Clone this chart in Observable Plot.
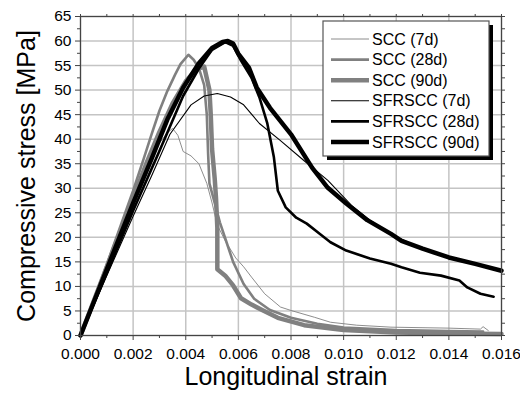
<!DOCTYPE html>
<html><head><meta charset="utf-8">
<script src="https://cdn.jsdelivr.net/npm/d3@7"></script>
<script src="https://cdn.jsdelivr.net/npm/@observablehq/plot@0.6"></script>
<style>
body{margin:0;background:#fff}
svg{font-family:"Liberation Sans",Arial,sans-serif}
</style>
</head><body><div id="chart"></div>
<script>
// series names (legend order)
const seriesNames = ["SCC (7d)", "SCC (28d)", "SCC (90d)", "SFRSCC (7d)", "SFRSCC (28d)", "SFRSCC (90d)"];

// [longitudinal strain, compressive stress MPa]
const scc7 = [[0,0],[0.001,13.5],[0.002,27],[0.0029,38.5],[0.0033,41.3],[0.0035,42.2],[0.0037,40.8],[0.0039,37.5],[0.0042,36.6],[0.0045,35],[0.0048,31],[0.005,27],[0.0052,22.5],[0.0055,19.3],[0.0059,15.8],[0.0062,14],[0.0065,11.9],[0.007,8.5],[0.0076,5.8],[0.008,5.1],[0.0089,3.7],[0.0095,2.7],[0.0105,2.1],[0.0118,1.7],[0.014,1.5],[0.0152,1.3],[0.0153,1.8],[0.0155,1.0]];
const scc28 = [[0,0],[0.001,14.5],[0.002,29.5],[0.0024,36],[0.0027,41],[0.003,45.8],[0.0033,49.8],[0.0036,53.2],[0.0038,55.3],[0.0041,57.2],[0.0043,56.2],[0.0045,54.5],[0.0047,51],[0.0048,45],[0.00485,37],[0.0049,31],[0.0051,27],[0.0053,23],[0.00555,19],[0.0058,15],[0.0062,10.5],[0.0066,7.5],[0.0072,5.2],[0.008,3.6],[0.009,2.4],[0.01,1.6],[0.012,1.1],[0.014,0.9],[0.0153,0.8]];
const scc90 = [[0,0],[0.001,14],[0.002,28],[0.0025,35],[0.003,41.5],[0.0035,47.3],[0.004,51.8],[0.0044,54.2],[0.0047,54.8],[0.0049,50],[0.00495,45],[0.005,38],[0.0051,32],[0.00515,28],[0.0052,22],[0.0052,13.5],[0.0055,12.2],[0.0058,10.2],[0.0061,7.6],[0.0065,6.3],[0.0069,5.2],[0.0075,3.6],[0.0085,2.1],[0.01,1.1],[0.012,0.6],[0.014,0.4],[0.016,0.3]];
const sfr7 = [[0,0],[0.001,12.2],[0.002,24.3],[0.0027,32.5],[0.0034,41],[0.0042,47],[0.0047,48.8],[0.0052,49.3],[0.0057,48.6],[0.0062,47],[0.0068,43.2],[0.0076,39.7],[0.0085,35.6],[0.0094,31.6],[0.0103,26.5],[0.011,23.5],[0.012,20.1],[0.013,17.7],[0.014,15.9],[0.015,14.5],[0.016,13.1]];
const sfr28 = [[0,0],[0.001,12.7],[0.002,25.4],[0.003,37.6],[0.0039,48.8],[0.0045,54.4],[0.005,58.2],[0.0055,59.8],[0.0058,59],[0.0061,56],[0.0065,52.5],[0.0068,48.5],[0.0071,43.2],[0.00735,36.3],[0.0075,29.5],[0.0078,26.1],[0.0082,24],[0.0086,22.8],[0.0091,20.7],[0.0095,19],[0.0101,17.3],[0.011,15.7],[0.0118,14.6],[0.0122,13.9],[0.0129,12.8],[0.0137,12.2],[0.0144,11.2],[0.0147,9.8],[0.0152,8.5],[0.0157,7.9]];
const sfr90 = [[0,0],[0.001,13.5],[0.002,27],[0.0027,36],[0.0033,44],[0.0039,50.5],[0.0045,55.5],[0.005,58.6],[0.0054,59.8],[0.0056,60],[0.0058,59.5],[0.006,57.4],[0.0064,54.6],[0.0067,50.5],[0.0072,46.4],[0.008,41],[0.0088,34.2],[0.0094,30.1],[0.0101,26.9],[0.0109,23.5],[0.0118,20.7],[0.0122,19.3],[0.013,17.7],[0.014,15.9],[0.015,14.6],[0.016,13.2]];
const seriesData = [scc7, scc28, scc90, sfr7, sfr28, sfr90];

const xTicks = [0, 0.002, 0.004, 0.006, 0.008, 0.010, 0.012, 0.014, 0.016];
const xMinor = [0.001, 0.003, 0.005, 0.007, 0.009, 0.011, 0.013, 0.015];
const yTicks = [0, 5, 10, 15, 20, 25, 30, 35, 40, 45, 50, 55, 60, 65];
const yMinor = [2.5, 7.5, 12.5, 17.5, 22.5, 27.5, 32.5, 37.5, 42.5, 47.5, 52.5, 57.5, 62.5];

// styles
const colors = ["#808080", "#808080", "#808080", "#000000", "#000000", "#000000"];
const widths = [0.9, 2.6, 4.5, 1.1, 2.6, 4.5];

const rows = seriesData.flatMap((arr, i) => arr.map(([x, y]) => ({series: seriesNames[i], x, y})));

const fmt = d3.format(".3f");
const marks = [
  Plot.gridX(xTicks, {stroke: "#c4c4c4", strokeOpacity: 1, strokeWidth: 1.5}),
  Plot.gridY(yTicks, {stroke: "#c4c4c4", strokeOpacity: 1, strokeWidth: 1.5}),
];
seriesNames.forEach((name, i) => {
  marks.push(Plot.line(rows.filter(d => d.series === name), {x: "x", y: "y", stroke: colors[i], strokeWidth: widths[i], strokeLinejoin: "round", curve: "linear"}));
});
marks.push(
  Plot.frame({stroke: "#444", strokeWidth: 1.2}),
  Plot.axisX(xTicks, {tickFormat: fmt, tickSize: 5, tickPadding: 7, fontSize: 15.5, stroke: "#444", label: null}),
  Plot.axisX(xMinor, {tickSize: 3, text: null, stroke: "#444", label: null}),
  Plot.axisX(xTicks.concat(xMinor), {anchor: "top", tickSize: 3, text: null, stroke: "#444", label: null}),
  Plot.axisY(yTicks, {tickSize: 5, tickPadding: 4, fontSize: 15.5, stroke: "#444", label: null}),
  Plot.axisY(yMinor, {tickSize: 3, text: null, stroke: "#444", label: null}),
  Plot.axisY(yTicks.concat(yMinor), {anchor: "right", tickSize: 3, text: null, stroke: "#444", label: null}),
  Plot.text(["Longitudinal strain"], {frameAnchor: "bottom", dy: 49, dx: -5, fontSize: 25, fill: "#000", textAnchor: "middle"}),
  Plot.text(["Compressive stress [MPa]"], {frameAnchor: "left", dx: -54, rotate: -90, fontSize: 25, fill: "#000", textAnchor: "middle"})
);

const chart = Plot.plot({
  width: 520, height: 398,
  marginLeft: 80, marginRight: 19, marginTop: 16, marginBottom: 63,
  x: {domain: [0, 0.016]},
  y: {domain: [0, 65]},
  style: {fontFamily: '"Liberation Sans", Arial, sans-serif', background: "#fff", color: "#000"},
  marks
});
document.getElementById("chart").appendChild(chart);

// legend box with drop shadow
const svg = d3.select(chart);
const lg = svg.append("g").attr("text-anchor", "start");
lg.append("rect").attr("x", 327).attr("y", 25).attr("width", 166).attr("height", 135).attr("fill", "#000");
lg.append("rect").attr("x", 323).attr("y", 21).attr("width", 166).attr("height", 135).attr("fill", "#fff").attr("stroke", "#555").attr("stroke-width", 1.2);
seriesNames.forEach((name, i) => {
  const yy = 39 + i * 20.6;
  lg.append("line").attr("x1", 331).attr("x2", 369).attr("y1", yy).attr("y2", yy)
    .attr("stroke", colors[i]).attr("stroke-width", widths[i]);
  lg.append("text").attr("x", 372).attr("y", yy).attr("dy", "0.35em").attr("text-anchor", "start")
    .attr("font-size", 16).attr("fill", "#000").text(name);
});
</script></body></html>
